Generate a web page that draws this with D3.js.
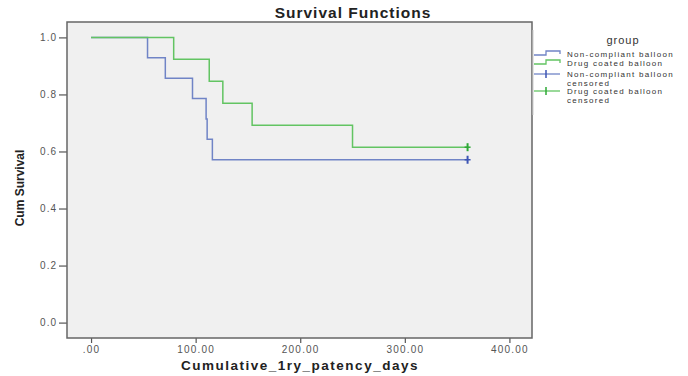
<!DOCTYPE html>
<html>
<head>
<meta charset="utf-8">
<script src="https://cdn.jsdelivr.net/npm/d3@7"></script>
<style>
  body { margin: 0; background: #fff; }
  text { font-family: Arial, "Liberation Sans", sans-serif; }
</style>
</head>
<body>
<svg width="688" height="376"></svg>
<script>
// Kaplan-Meier steps
var ncTimes = [0, 54, 71, 97, 110, 111, 116];
var ncSurv = [1, 0.929, 0.857, 0.786, 0.714, 0.643, 0.571];
var ncCensor = [360];

var dcTimes = [0, 79, 113, 126, 154, 250];
var dcSurv = [1, 0.923, 0.846, 0.769, 0.692, 0.615];
var dcCensor = [360];

var xTicks = [0, 100, 200, 300, 400];
var yTicks = [0, 0.2, 0.4, 0.6, 0.8, 1.0];

var legendLabels = [
  ['Non-compliant balloon'],
  ['Drug coated balloon'],
  ['Non-compliant balloon', 'censored'],
  ['Drug coated balloon', 'censored']
];

var blue = '#7084c6', green = '#62c462';
var blueDark = '#3d55b4', greenDark = '#2ea836';

var svg = d3.select('svg');
var plot = {left: 67, top: 22, right: 532, bottom: 338};

var x = d3.scaleLinear().domain([-23, 421.6]).range([plot.left, plot.right]);
var y = d3.scaleLinear().domain([-0.054, 1.054]).range([plot.bottom, plot.top]);

// fond
svg.append('rect')
  .attr('x', plot.left).attr('y', plot.top)
  .attr('width', plot.right - plot.left).attr('height', plot.bottom - plot.top)
  .attr('fill', '#f0f0f0');

// axe Y
var yAxis = svg.append('g')
  .attr('transform', 'translate(' + plot.left + ',0)')
  .call(d3.axisLeft(y).tickValues(yTicks).tickFormat(d3.format('.1f')).tickSize(8).tickPadding(2));
yAxis.select('.domain').remove();
yAxis.selectAll('line').attr('stroke', '#555').attr('stroke-width', 1.2);
yAxis.selectAll('text').attr('fill', '#555').attr('font-size', 10)
  .attr('letter-spacing', 1).style('font-family', 'Arial, sans-serif');

// axe X
var xAxis = svg.append('g')
  .attr('transform', 'translate(0,' + plot.bottom + ')')
  .call(d3.axisBottom(x).tickValues(xTicks)
    .tickFormat(function(d) { return d === 0 ? '.00' : d.toFixed(2); })
    .tickSize(5).tickPadding(3));
xAxis.select('.domain').remove();
xAxis.selectAll('line').attr('stroke', '#555').attr('stroke-width', 1.2);
xAxis.selectAll('text').attr('fill', '#555').attr('font-size', 10)
  .attr('letter-spacing', 1.2).style('font-family', 'Arial, sans-serif');

// cadru
svg.append('rect')
  .attr('x', plot.left).attr('y', plot.top)
  .attr('width', plot.right - plot.left).attr('height', plot.bottom - plot.top)
  .attr('fill', 'none').attr('stroke', '#666').attr('stroke-width', 1.5);

// curbe
var line = d3.line()
  .x(function(d) { return x(d[0]); })
  .y(function(d) { return y(d[1]); })
  .curve(d3.curveStepAfter);

function steps(times, surv, end) {
  var pts = times.map(function(t, i) { return [t, surv[i]]; });
  pts.push([end, surv[surv.length - 1]]);
  return pts;
}

var series = [
  {times: ncTimes, surv: ncSurv, censor: ncCensor, color: blue, dark: blueDark},
  {times: dcTimes, surv: dcSurv, censor: dcCensor, color: green, dark: greenDark}
];

series.forEach(function(s) {
  svg.append('path')
    .datum(steps(s.times, s.surv, d3.max(s.censor)))
    .attr('d', line)
    .attr('fill', 'none')
    .attr('stroke', s.color)
    .attr('stroke-width', 1.5);
});

series.forEach(function(s) {
  var last = s.surv[s.surv.length - 1];
  svg.selectAll(null)
    .data(s.censor)
    .enter().append('line')
    .attr('x1', function(d) { return x(d); })
    .attr('x2', function(d) { return x(d); })
    .attr('y1', y(last) - 4)
    .attr('y2', y(last) + 4)
    .attr('stroke', s.dark)
    .attr('stroke-width', 2);
  svg.append('line')
    .attr('x1', x(d3.max(s.censor)) - 3).attr('x2', x(d3.max(s.censor)) + 3)
    .attr('y1', y(last)).attr('y2', y(last))
    .attr('stroke', s.dark).attr('stroke-width', 1.5);
});

// titluri
svg.append('text')
  .attr('x', 353).attr('y', 18)
  .attr('text-anchor', 'middle')
  .attr('font-size', 15.5).attr('font-weight', 'bold').attr('fill', '#222')
  .attr('letter-spacing', 1)
  .text('Survival Functions');

svg.append('text')
  .attr('transform', 'translate(24,188) rotate(-90)')
  .attr('text-anchor', 'middle')
  .attr('font-size', 12).attr('font-weight', 'bold').attr('fill', '#222')
  .text('Cum Survival');

svg.append('text')
  .attr('x', 300).attr('y', 370)
  .attr('text-anchor', 'middle')
  .attr('font-size', 13.5).attr('font-weight', 'bold').attr('fill', '#222')
  .attr('letter-spacing', 1.5)
  .text('Cumulative_1ry_patency_days');

// legenda
svg.append('line')
  .attr('x1', 533).attr('x2', 533).attr('y1', 30).attr('y2', 115)
  .attr('stroke', '#ccc').attr('stroke-width', 1);

svg.append('text')
  .attr('x', 623).attr('y', 44)
  .attr('text-anchor', 'middle')
  .attr('font-size', 11).attr('fill', '#333').attr('letter-spacing', 1)
  .text('group');

var rowY = [54, 63, 74, 91];
var legendColors = [blue, green, blue, green];

legendLabels.forEach(function(lbl, i) {
  var yy = rowY[i];
  var c = legendColors[i];
  if (i < 2) {
    svg.append('path')
      .attr('d', 'M534,' + (yy + 1) + 'H546V' + (yy - 3) + 'H560V' + (yy))
      .attr('fill', 'none').attr('stroke', c).attr('stroke-width', 1.3);
  } else {
    svg.append('line')
      .attr('x1', 534).attr('x2', 560).attr('y1', yy).attr('y2', yy)
      .attr('stroke', c).attr('stroke-width', 1.3);
    svg.append('line')
      .attr('x1', 546).attr('x2', 546).attr('y1', yy - 4).attr('y2', yy + 4)
      .attr('stroke', i === 2 ? blueDark : greenDark).attr('stroke-width', 1.5);
  }
  var t = svg.append('text')
    .attr('x', 567).attr('y', yy + 3)
    .attr('font-size', 8).attr('fill', '#333').attr('letter-spacing', 1.3);
  lbl.forEach(function(part, j) {
    t.append('tspan').attr('x', 567).attr('dy', j === 0 ? 0 : 9).text(part);
  });
});
</script>
</body>
</html>
